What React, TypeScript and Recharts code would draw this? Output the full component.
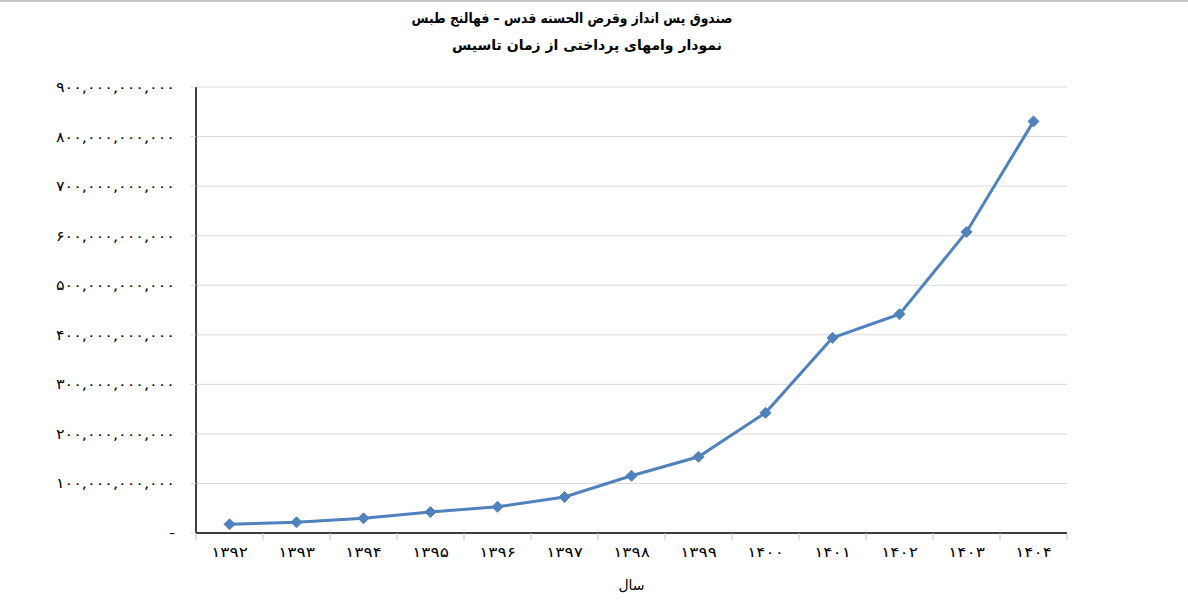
import React from 'react';
import { LineChart, Line, XAxis, YAxis, CartesianGrid } from 'recharts';

const years = ['۱۳۹۲', '۱۳۹۳', '۱۳۹۴', '۱۳۹۵', '۱۳۹۶', '۱۳۹۷', '۱۳۹۸', '۱۳۹۹', '۱۴۰۰', '۱۴۰۱', '۱۴۰۲', '۱۴۰۳', '۱۴۰۴'];
const loans = [
  17.5e9, 21.6e9, 29.6e9, 42.3e9, 53e9, 72.6e9, 115.5e9, 153.8e9, 242.5e9, 393.8e9, 441.5e9, 607.5e9, 830.6e9,
];
const yTicks = [0, 100e9, 200e9, 300e9, 400e9, 500e9, 600e9, 700e9, 800e9, 900e9];
const xTicks = [-0.5, 0, 0.5, 1, 1.5, 2, 2.5, 3, 3.5, 4, 4.5, 5, 5.5, 6, 6.5, 7, 7.5, 8, 8.5, 9, 9.5, 10, 10.5, 11, 11.5, 12, 12.5];
const titleLine1 = 'صندوق پس انداز وقرض الحسنه قدس – فهالنج طبس';
const titleLine2 = 'نمودار وامهای  پرداختی از زمان تاسیس';
const xTitle = 'سال';

const data = years.map((y, i) => ({ i, year: y, value: loans[i] }));

const FONT = '"DejaVu Sans", sans-serif';
const BLUE = '#4F81BD';

const toPersian = (s: string) => s.replace(/[0-9]/g, (d) => '۰۱۲۳۴۵۶۷۸۹'[Number(d)]);

const fmtY = (v: number) => {
  if (v === 0) return '-';
  return toPersian(v.toLocaleString('en-US'));
};

const XTick = (props: any) => {
  const { x, y, payload } = props;
  const v = payload.value as number;
  if (Number.isInteger(v)) {
    return (
      <text
        transform={`translate(${x},${y + 24}) scale(1.22,1)`}
        textAnchor="middle"
        fontSize={14}
        fill="#000"
        fontFamily={FONT}
      >
        {years[v]}
      </text>
    );
  }
  return <line x1={x} y1={y} x2={x} y2={y + 7} stroke="#bfbfbf" strokeWidth={1} />;
};

const YTick = (props: any) => {
  const { x, y, payload } = props;
  return (
    <text
      transform={`translate(${x},${y + 5}) scale(1.15,1)`}
      textAnchor="end"
      fontSize={14}
      fill="#000"
      fontFamily={FONT}
    >
      {fmtY(payload.value)}
    </text>
  );
};

const Diamond = (props: any) => {
  const { cx, cy } = props;
  if (cx == null || cy == null) return null;
  const r = 5.5;
  return (
    <path
      d={`M${cx},${cy - r} L${cx + r},${cy} L${cx},${cy + r} L${cx - r},${cy} Z`}
      fill={BLUE}
      stroke={BLUE}
      strokeWidth={1}
    />
  );
};

export default function App() {
  return (
    <div
      style={{
        position: 'absolute',
        left: 0,
        top: 0,
        width: 1188,
        height: 604,
        background: '#fff',
        borderTop: '2px solid #c6c6c6',
        boxSizing: 'border-box',
        fontFamily: FONT,
      }}
    >
      <div
        style={{
          position: 'absolute',
          left: 372,
          width: 400,
          top: 6,
          textAlign: 'center',
          direction: 'rtl',
          fontWeight: 'bold',
          fontSize: 14,
          lineHeight: '20px',
          color: '#000',
          transform: 'scaleX(0.88)',
        }}
      >
        {titleLine1}
      </div>
      <div
        style={{
          position: 'absolute',
          left: 387,
          width: 400,
          top: 33,
          textAlign: 'center',
          direction: 'rtl',
          fontWeight: 'bold',
          fontSize: 14,
          lineHeight: '20px',
          color: '#000',
        }}
      >
        {titleLine2}
      </div>
      <div style={{ position: 'absolute', left: 0, top: -2 }}>
        <LineChart width={1188} height={604} data={data} margin={{ top: 87, right: 121, left: 0, bottom: 0 }}>
          <CartesianGrid vertical={false} stroke="#d9d9d9" strokeWidth={1} />
          <XAxis
            dataKey="i"
            type="number"
            domain={[-0.5, 12.5]}
            ticks={xTicks}
            interval={0}
            tickLine={false}
            tickSize={0}
            tickMargin={0}
            tick={<XTick />}
            axisLine={{ stroke: '#000', strokeWidth: 1.5 }}
            height={71}
            label={{ value: xTitle, position: 'insideBottom', offset: 14, fontSize: 14, fill: '#000', fontFamily: FONT }}
          />
          <YAxis
            type="number"
            domain={[0, 900e9]}
            ticks={yTicks}
            interval={0}
            width={196}
            tickLine={{ stroke: '#d9d9d9' }}
            tickSize={6}
            tickMargin={15}
            axisLine={{ stroke: '#000', strokeWidth: 1.5 }}
            tick={<YTick />}
          />
          <Line
            type="linear"
            dataKey="value"
            stroke={BLUE}
            strokeWidth={3}
            dot={<Diamond />}
            activeDot={false}
            isAnimationActive={false}
          />
        </LineChart>
      </div>
    </div>
  );
}
